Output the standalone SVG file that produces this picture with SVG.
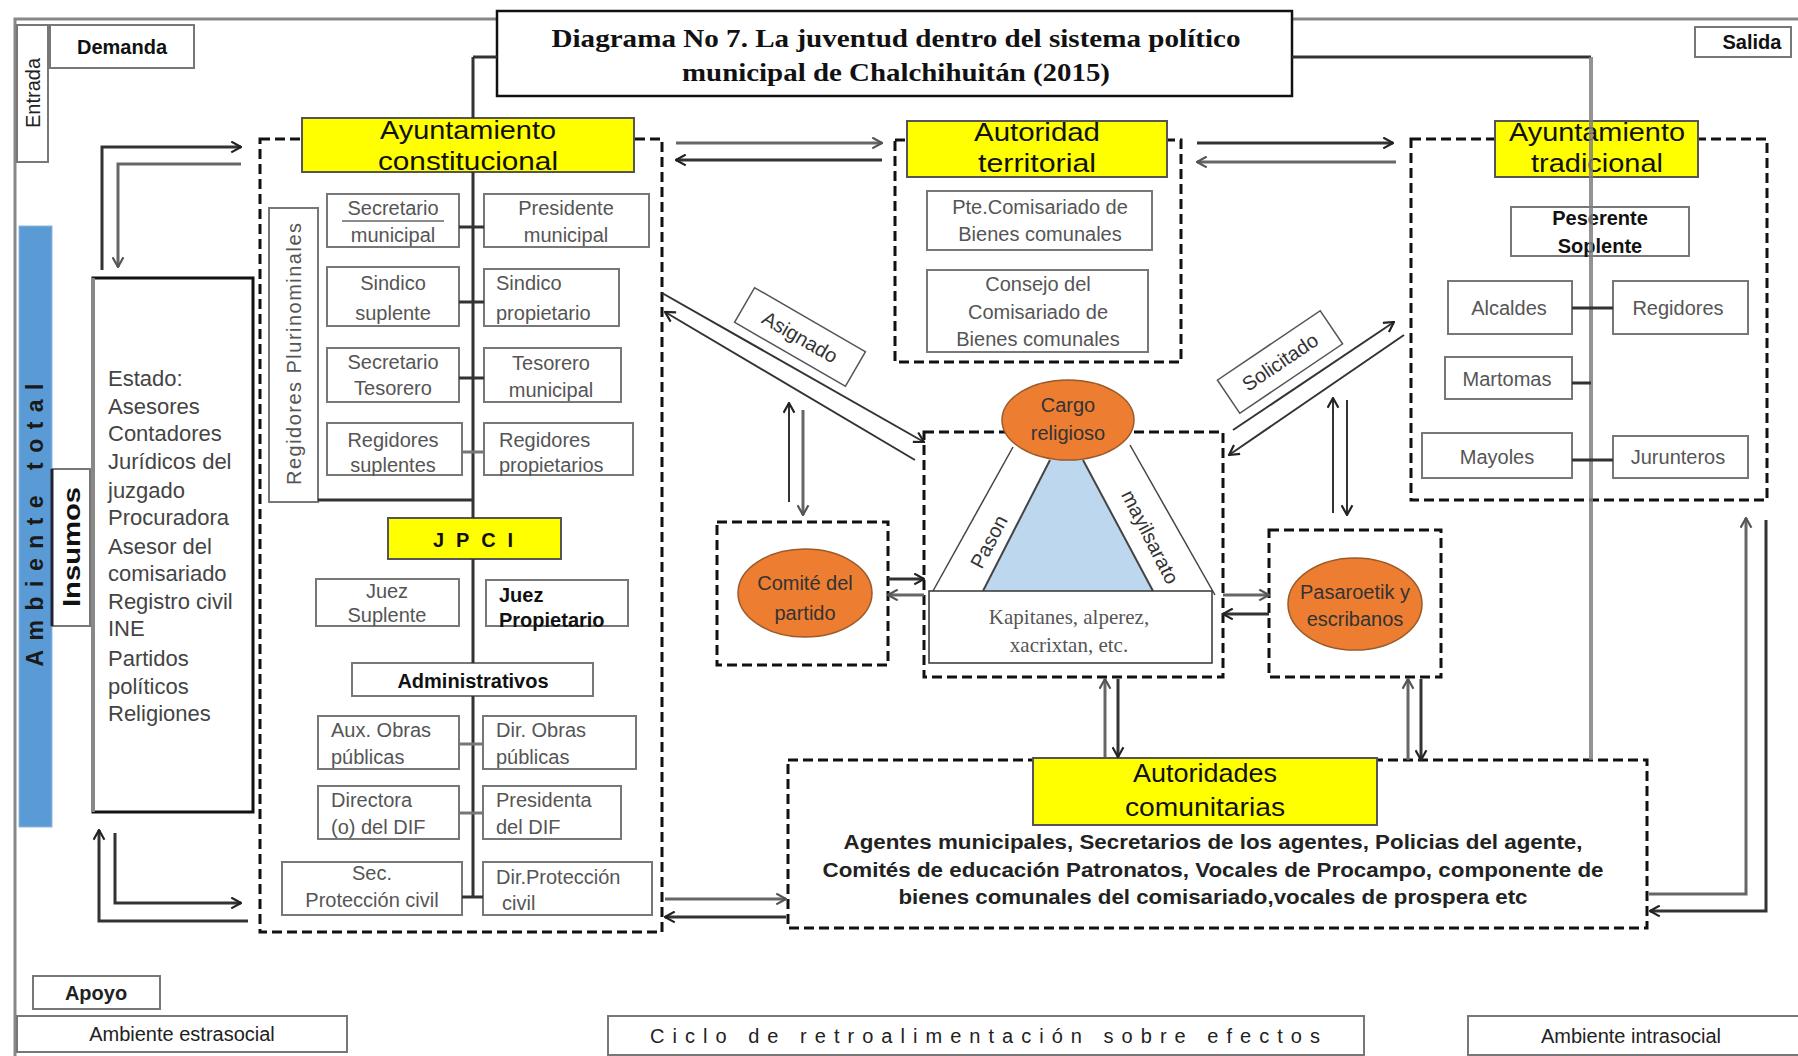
<svg xmlns="http://www.w3.org/2000/svg" width="1798" height="1056" viewBox="0 0 1798 1056">
<defs>
<marker id="ah" viewBox="0 0 12 12" refX="11" refY="6" markerWidth="13" markerHeight="13" markerUnits="userSpaceOnUse" orient="auto"><path d="M2,1 L11,6 L2,11" fill="none" stroke="#222" stroke-width="2"/></marker>
<marker id="ahg" viewBox="0 0 12 12" refX="11" refY="6" markerWidth="13" markerHeight="13" markerUnits="userSpaceOnUse" orient="auto"><path d="M2,1 L11,6 L2,11" fill="none" stroke="#555" stroke-width="2"/></marker>
<style>
.fr{fill:none;stroke:#888;stroke-width:3}
.box{fill:#fff;stroke:#777;stroke-width:2}
.dash{fill:none;stroke:#111;stroke-width:3;stroke-dasharray:10 5}
.yel{fill:#ffff00;stroke:#555;stroke-width:2}
.t{font-family:"Liberation Sans",Arial,sans-serif;font-size:20px;fill:#555;text-anchor:middle}
.tl{font-family:"Liberation Sans",Arial,sans-serif;font-size:20px;fill:#555;text-anchor:start}
.h{font-family:"Liberation Sans",Arial,sans-serif;font-size:25px;fill:#111;text-anchor:middle}
.e{font-family:"Liberation Sans",Arial,sans-serif;font-size:22px;fill:#444;text-anchor:start}
.b{font-family:"Liberation Sans",Arial,sans-serif;font-size:20px;fill:#111;font-weight:bold;text-anchor:middle}
.ov{fill:#ED7D31;stroke:#9a5a2a;stroke-width:1.5}
.ot{font-family:"Liberation Sans",Arial,sans-serif;font-size:20px;fill:#333;text-anchor:middle}
.c{fill:none;stroke:#333;stroke-width:3}
.cg{fill:none;stroke:#777;stroke-width:3}
.ca{fill:none;stroke:#333;stroke-width:3;marker-end:url(#ah)}
.cga{fill:none;stroke:#666;stroke-width:3;marker-end:url(#ahg)}
.th{fill:none;stroke:#333;stroke-width:2;marker-end:url(#ah)}
</style>
</defs>
<rect width="1798" height="1056" fill="#fff"/>
<path class="fr" d="M15,1056 V19 H1798"/>

<g id="entrada"><rect class="box" x="17" y="25" width="31" height="137" stroke="#888"/><text class="t" fill="#222" style="fill:#222" transform="translate(40,93) rotate(-90)">Entrada</text></g>
<g id="demanda"><rect class="box" x="50" y="25" width="144" height="43"/><text class="b" x="122" y="54" font-size="20">Demanda</text></g>
<g id="salida"><rect class="box" x="1695" y="27" width="96" height="30"/><text class="b" x="1752" y="49" font-size="19">Salida</text></g>

<g id="titulo"><rect x="497" y="11" width="795" height="85" fill="#fff" stroke="#111" stroke-width="2.5"/>
<text x="896" y="47" font-family="Liberation Serif, serif" font-size="26" font-weight="bold" fill="#111" text-anchor="middle" textLength="689" lengthAdjust="spacingAndGlyphs">Diagrama No 7. La juventud dentro del sistema político</text>
<text x="896" y="81" font-family="Liberation Serif, serif" font-size="26" font-weight="bold" fill="#111" text-anchor="middle" textLength="428" lengthAdjust="spacingAndGlyphs">municipal de Chalchihuitán (2015)</text></g>

<g id="ambiente-total"><rect x="19" y="226" width="33" height="601" fill="#5B9BD5" stroke="#8fb5de" stroke-width="1"/><text transform="translate(43,525) rotate(-90)" font-family="Liberation Sans, Arial, sans-serif" font-size="23" font-weight="bold" fill="#1a1a1a" text-anchor="middle" textLength="283" lengthAdjust="spacing">Ambiente total</text></g>
<g id="insumos"><rect x="52" y="469" width="38" height="157" fill="#fff" stroke="#777" stroke-width="2"/><line x1="52" y1="469" x2="52" y2="626" stroke="#223" stroke-width="3"/><text transform="translate(80,547) rotate(-90)" font-family="Liberation Sans, Arial, sans-serif" font-size="24" font-weight="bold" fill="#111" text-anchor="middle" textLength="120" lengthAdjust="spacingAndGlyphs">Insumos</text></g>

<g id="estado"><rect x="93" y="278" width="160" height="534" fill="#fff" stroke="#111" stroke-width="3"/><line x1="93" y1="278" x2="93" y2="812" stroke="#888" stroke-width="4"/>
<text class="e" x="108" y="386">Estado:</text><text class="e" x="108" y="414">Asesores</text><text class="e" x="108" y="441">Contadores</text><text class="e" x="108" y="469">Jurídicos del</text><text class="e" x="108" y="498">juzgado</text><text class="e" x="108" y="525">Procuradora</text><text class="e" x="108" y="554">Asesor del</text><text class="e" x="108" y="581">comisariado</text><text class="e" x="108" y="609">Registro civil</text><text class="e" x="108" y="636">INE</text><text class="e" x="108" y="666">Partidos</text><text class="e" x="108" y="694">políticos</text><text class="e" x="108" y="721">Religiones</text></g>

<g id="ayuntamiento-constitucional">
<rect class="dash" x="260" y="139" width="402" height="793"/>
<rect class="yel" x="302" y="118" width="332" height="54"/>
<text class="h" x="468" y="139" font-size="26" textLength="176" lengthAdjust="spacingAndGlyphs">Ayuntamiento</text>
<text class="h" x="468" y="170" font-size="26" textLength="180" lengthAdjust="spacingAndGlyphs">constitucional</text>
<rect class="box" x="269" y="208" width="49" height="294"/>
<text class="t" transform="translate(301,354) rotate(-90)" textLength="262" lengthAdjust="spacing">Regidores Plurinominales</text>
<rect class="box" x="327" y="194" width="132" height="53"/><text class="t" x="393" y="215">Secretario</text><line x1="342" y1="221" x2="444" y2="221" stroke="#666" stroke-width="1.5"/><text class="t" x="393" y="242">municipal</text>
<rect class="box" x="484" y="194" width="165" height="53"/><text class="t" x="566" y="215">Presidente</text><text class="t" x="566" y="242">municipal</text>
<rect class="box" x="327" y="267" width="132" height="59"/><text class="t" x="393" y="290">Sindico</text><text class="t" x="393" y="320">suplente</text>
<rect class="box" x="484" y="269" width="135" height="57"/><text class="tl" x="496" y="290">Sindico</text><text class="tl" x="496" y="320">propietario</text>
<rect class="box" x="327" y="348" width="132" height="54"/><text class="t" x="393" y="369">Secretario</text><text class="t" x="393" y="395">Tesorero</text>
<rect class="box" x="484" y="348" width="137" height="54"/><text class="t" x="551" y="370">Tesorero</text><text class="t" x="551" y="397">municipal</text>
<rect class="box" x="327" y="423" width="135" height="52"/><text class="t" x="393" y="447">Regidores</text><text class="t" x="393" y="472">suplentes</text>
<rect class="box" x="484" y="423" width="149" height="52"/><text class="tl" x="499" y="447">Regidores</text><text class="tl" x="499" y="472">propietarios</text>
<rect class="yel" x="388" y="518" width="173" height="41"/><text class="b" x="473" y="547" font-size="22" textLength="80" lengthAdjust="spacing">JPCI</text>
<rect class="box" x="316" y="579" width="143" height="47"/><text class="t" x="387" y="598">Juez</text><text class="t" x="387" y="622">Suplente</text>
<rect class="box" x="486" y="580" width="142" height="46"/><text class="tl" x="499" y="602" style="font-weight:bold;fill:#111">Juez</text><text class="tl" x="499" y="627" style="font-weight:bold;fill:#111">Propietario</text>
<rect class="box" x="352" y="663" width="241" height="33"/><text class="b" x="473" y="688">Administrativos</text>
<rect class="box" x="318" y="716" width="141" height="53"/><text class="tl" x="331" y="737">Aux. Obras</text><text class="tl" x="331" y="764">públicas</text>
<rect class="box" x="483" y="716" width="153" height="53"/><text class="tl" x="496" y="737">Dir. Obras</text><text class="tl" x="496" y="764">públicas</text>
<rect class="box" x="318" y="786" width="141" height="53"/><text class="tl" x="331" y="807">Directora</text><text class="tl" x="331" y="834">(o) del DIF</text>
<rect class="box" x="483" y="786" width="138" height="53"/><text class="tl" x="496" y="807">Presidenta</text><text class="tl" x="496" y="834">del DIF</text>
<rect class="box" x="282" y="862" width="180" height="53"/><text class="t" x="372" y="880">Sec.</text><text class="t" x="372" y="907">Protección civil</text>
<rect class="box" x="483" y="862" width="169" height="53"/><text class="tl" x="496" y="884">Dir.Protección</text><text class="tl" x="502" y="910">civil</text>
</g>

<g id="autoridad-territorial">
<rect class="dash" x="895" y="140" width="286" height="222"/>
<rect class="yel" x="907" y="121" width="260" height="56"/>
<text class="h" x="1037" y="141" textLength="126" lengthAdjust="spacingAndGlyphs">Autoridad</text>
<text class="h" x="1037" y="172" textLength="118" lengthAdjust="spacingAndGlyphs">territorial</text>
<rect class="box" x="927" y="191" width="225" height="59"/><text class="t" x="1040" y="214">Pte.Comisariado de</text><text class="t" x="1040" y="241">Bienes comunales</text>
<rect class="box" x="927" y="270" width="221" height="82"/><text class="t" x="1038" y="291">Consejo del</text><text class="t" x="1038" y="319">Comisariado de</text><text class="t" x="1038" y="346">Bienes comunales</text>
</g>

<g id="ayuntamiento-tradicional">
<rect class="dash" x="1411" y="139" width="356" height="361"/>
<rect class="yel" x="1495" y="121" width="203" height="56"/>
<text class="h" x="1597" y="141" textLength="176" lengthAdjust="spacingAndGlyphs">Ayuntamiento</text>
<text class="h" x="1597" y="172" textLength="132" lengthAdjust="spacingAndGlyphs">tradicional</text>
<rect class="box" x="1511" y="207" width="178" height="49"/><text class="b" x="1600" y="225">Peserente</text><text class="b" x="1600" y="253">Soplente</text>
<rect class="box" x="1448" y="281" width="124" height="53"/><text class="t" x="1509" y="315">Alcaldes</text>
<rect class="box" x="1613" y="281" width="135" height="53"/><text class="t" x="1678" y="315">Regidores</text>
<rect class="box" x="1445" y="357" width="127" height="42"/><text class="t" x="1507" y="386">Martomas</text>
<rect class="box" x="1422" y="433" width="150" height="45"/><text class="t" x="1497" y="464">Mayoles</text>
<rect class="box" x="1613" y="436" width="135" height="42"/><text class="t" x="1678" y="464">Jurunteros</text>
</g>

<g id="cargo-religioso">
<rect class="dash" x="924" y="432" width="299" height="245"/>
<line x1="1013" y1="447" x2="933" y2="591" stroke="#444" stroke-width="1.5"/>
<line x1="1130" y1="445" x2="1215" y2="595" stroke="#444" stroke-width="1.5"/>
<polygon points="1050,460 1083,460 1153,591 983,591" fill="#BDD7EE"/>
<line x1="1050" y1="460" x2="983" y2="591" stroke="#444" stroke-width="2"/>
<line x1="1083" y1="460" x2="1153" y2="591" stroke="#444" stroke-width="2"/>
<ellipse class="ov" cx="1068" cy="420" rx="66" ry="40"/>
<text class="ot" x="1068" y="412">Cargo</text><text class="ot" x="1068" y="440">religioso</text>
<text class="ot" font-size="18" transform="translate(995,545) rotate(-62)">Pason</text>
<text class="ot" font-size="18" transform="translate(1144,540) rotate(63)">mayilsarato</text>
<rect x="929" y="591" width="283" height="72" fill="#fff" stroke="#333" stroke-width="1.5"/>
<text x="1069" y="624" font-family="Liberation Serif, serif" font-size="21" fill="#555" text-anchor="middle">Kapitanes, alperez,</text>
<text x="1069" y="652" font-family="Liberation Serif, serif" font-size="21" fill="#555" text-anchor="middle">xacrixtan, etc.</text>
</g>

<g id="comite-partido">
<rect class="dash" x="717" y="522" width="171" height="143"/>
<ellipse class="ov" cx="805" cy="593" rx="67" ry="44"/>
<text class="ot" x="805" y="590">Comité del</text><text class="ot" x="805" y="620">partido</text>
</g>

<g id="pasaroetik">
<rect class="dash" x="1269" y="530" width="172" height="147"/>
<ellipse class="ov" cx="1355" cy="604" rx="67" ry="46"/>
<text class="ot" x="1355" y="599">Pasaroetik y</text><text class="ot" x="1355" y="626">escribanos</text>
</g>

<g id="autoridades-comunitarias">
<rect class="dash" x="788" y="760" width="859" height="168"/>
<rect class="yel" x="1033" y="758" width="344" height="67"/>
<text class="h" x="1205" y="782" textLength="144" lengthAdjust="spacingAndGlyphs">Autoridades</text>
<text class="h" x="1205" y="816" textLength="160" lengthAdjust="spacingAndGlyphs">comunitarias</text>
<text class="b" x="1213" y="849" font-size="19" style="fill:#222" textLength="739" lengthAdjust="spacingAndGlyphs">Agentes municipales,  Secretarios de los agentes, Policias del agente,</text>
<text class="b" x="1213" y="877" font-size="19" style="fill:#222" textLength="781" lengthAdjust="spacingAndGlyphs">Comités de educación Patronatos, Vocales de Procampo, componente de</text>
<text class="b" x="1213" y="904" font-size="19" style="fill:#222" textLength="629" lengthAdjust="spacingAndGlyphs">bienes comunales del comisariado,vocales de prospera etc</text>
</g>

<g id="asignado"><g transform="translate(800,337) rotate(30)"><rect x="-64" y="-20" width="128" height="40" fill="#fff" stroke="#555" stroke-width="1.5"/><text class="ot" y="7" font-size="18">Asignado</text></g></g>
<g id="solicitado"><g transform="translate(1280,362) rotate(-34)"><rect x="-62" y="-20" width="124" height="40" fill="#fff" stroke="#555" stroke-width="1.5"/><text class="ot" y="7" font-size="18">Solicitado</text></g></g>

<g id="apoyo"><rect class="box" x="33" y="976" width="127" height="33"/><text class="b" x="96" y="1000" style="fill:#222">Apoyo</text></g>
<g id="ambiente-estrasocial"><rect class="box" x="17" y="1016" width="330" height="36"/><text class="b" x="182" y="1041" style="fill:#222;font-weight:normal">Ambiente estrasocial</text></g>
<g id="ciclo"><rect class="box" x="608" y="1016" width="756" height="39"/><text class="b" x="985" y="1043" style="fill:#222;font-weight:normal" textLength="670" lengthAdjust="spacing">Ciclo de retroalimentación sobre efectos</text></g>
<g id="ambiente-intrasocial"><rect class="box" x="1468" y="1016" width="340" height="39"/><text class="b" x="1631" y="1043" style="fill:#222;font-weight:normal">Ambiente intrasocial</text></g>

<g id="connectors">
<path class="c" d="M473,57 H497"/>
<path class="c" d="M1292,57 H1591"/>
<path d="M1591,57 V760" stroke="#808080" stroke-width="4" fill="none" opacity="0.85"/>
<path class="c" d="M473,57 V118 M473,172 V518 M473,559 V663 M473,696 V897 M462,897 H483"/>
<path class="c" d="M318,500 H473"/>
<path class="c" d="M459,227 H484 M459,302 H484 M459,378 H484"/>
<path class="cg" d="M462,452 H484 M459,744 H483 M459,813 H483"/>
<path class="c" d="M1572,308 H1613 M1572,383 H1591 M1572,460 H1613"/>
<path class="ca" d="M102,270 V147 H241"/>
<path class="cga" d="M241,164 H118 V267"/>
<path class="ca" d="M115,833 V903 H241"/>
<path class="ca" d="M248,921 H99 V830"/>
<path class="cga" d="M676,143 H882"/>
<path class="ca" d="M882,160 H676"/>
<path class="ca" d="M1197,143 H1393"/>
<path class="cga" d="M1396,162 H1197"/>
<path class="th" d="M662,293 L924,442"/>
<path class="th" d="M915,460 L665,312"/>
<path class="th" d="M1233,430 L1394,322"/>
<path class="th" d="M1404,335 L1229,455"/>
<path class="th" d="M789,502 V403"/>
<path class="cga" d="M803,410 V515"/>
<path class="ca" d="M888,579 H924"/>
<path class="cga" d="M924,595 H888" stroke-width="5"/>
<path class="cga" d="M1223,595 H1269"/>
<path class="ca" d="M1269,614 H1223"/>
<path class="th" d="M1333,513 V398"/>
<path class="th" d="M1347,400 V515"/>
<path class="cga" d="M1105,757 V679"/>
<path class="ca" d="M1118,679 V757"/>
<path class="cga" d="M1408,760 V679"/>
<path class="ca" d="M1421,679 V760"/>
<path class="cga" d="M665,899 H786" stroke-width="5"/>
<path class="ca" d="M786,917 H665"/>
<path class="cga" d="M1649,894 H1746 V518"/>
<path class="ca" d="M1766,520 V911 H1650"/>
</g>
</svg>
